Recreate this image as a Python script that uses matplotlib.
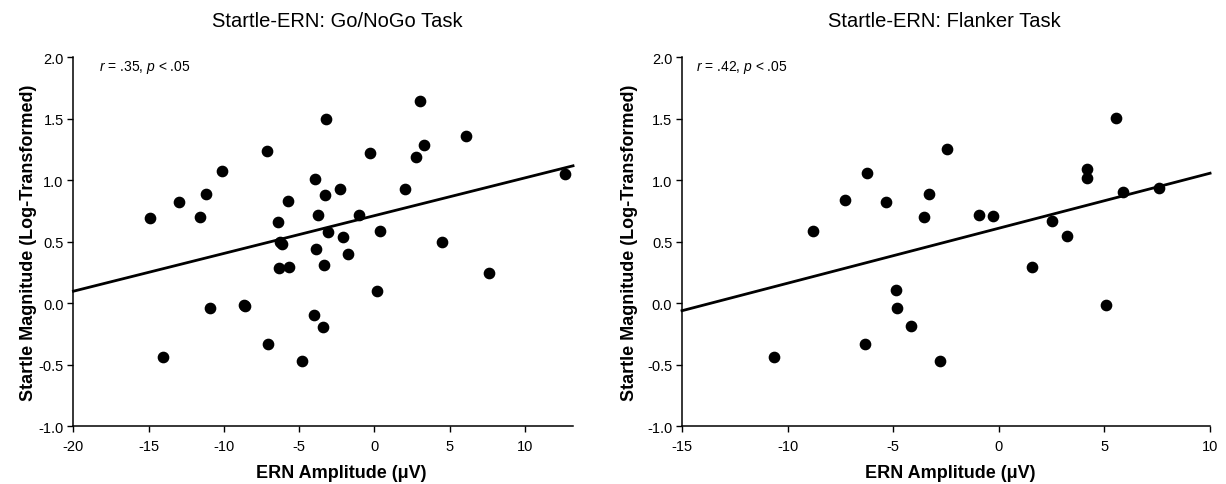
import numpy as np
import matplotlib
matplotlib.use("Agg")
import matplotlib.pyplot as plt

plt.rcParams["font.family"] = ["Liberation Sans", "DejaVu Sans"]
plt.rcParams["axes.unicode_minus"] = False
plt.rcParams["mathtext.fontset"] = "custom"
plt.rcParams["mathtext.it"] = "Liberation Sans:italic"
plt.rcParams["mathtext.rm"] = "Liberation Sans"

# Go/NoGo task
gng_x = [-14.89, -12.99, -11.57, -11.22, -10.11, -14.07, -10.93, -8.65, -8.57,
         -7.12, -7.04, -6.42, -6.24, -6.11, -6.37, -5.69, -5.75, -4.80, -3.94,
         -3.72, -3.89, -4.00, -3.23, -3.25, -3.10, -3.38, -3.41, -2.26, -2.06,
         -1.73, -1.04, -0.31, 0.20, 0.40, 2.04, 2.77, 3.05, 3.27, 4.49, 6.11,
         7.63, 12.65]
gng_y = [0.694, 0.821, 0.699, 0.889, 1.076, -0.434, -0.038, -0.016, -0.022,
         1.241, -0.331, 0.664, 0.496, 0.482, 0.290, 0.298, 0.835, -0.469, 1.008,
         0.721, 0.444, -0.098, 1.499, 0.881, 0.583, 0.314, -0.192, 0.930, 0.542,
         0.404, 0.718, 1.225, 0.103, 0.591, 0.930, 1.190, 1.642, 1.290, 0.496,
         1.358, 0.247, 1.051]

# Flanker task
flk_x = [-10.64, -8.78, -7.30, -6.25, -6.34, -5.33, -4.87, -4.80, -4.14, -3.52,
         -3.31, -2.77, -2.46, -0.93, -0.28, 1.55, 2.54, 3.24, 4.15, 4.18, 5.07,
         5.57, 5.90, 7.59]
flk_y = [-0.434, 0.588, 0.843, 1.062, -0.331, 0.827, 0.108, -0.035, -0.187,
         0.702, 0.889, -0.469, 1.252, 0.721, 0.707, 0.293, 0.672, 0.547, 1.089,
         1.016, -0.011, 1.509, 0.902, 0.935]

# regression lines (intercept, slope) and their x range
gng_fit = [0.712, 0.0307]
flk_fit = [0.610, 0.0447]
gng_line_x = [-20, 13.2]
flk_line_x = [-15, 10]

titles = ["Startle-ERN: Go/NoGo Task", "Startle-ERN: Flanker Task"]
stats = [r"$r$ = .35, $p$ < .05", r"$r$ = .42, $p$ < .05"]
gng_xticks = [-20, -15, -10, -5, 0, 5, 10]
flk_xticks = [-15, -10, -5, 0, 5, 10]
yticks = [-1.0, -0.5, 0.0, 0.5, 1.0, 1.5, 2.0]

fig = plt.figure(figsize=(12.26, 4.85), dpi=100)
ax1 = fig.add_axes([0.0599, 0.119, 0.4075, 0.761])
ax2 = fig.add_axes([0.5563, 0.119, 0.4307, 0.761])

panels = [
    (ax1, gng_x, gng_y, gng_fit, gng_line_x, gng_xticks, (-20, 13.2), 0.529, 0.537, 0.051, -0.072),
    (ax2, flk_x, flk_y, flk_fit, flk_line_x, flk_xticks, (-15, 10), 0.496, 0.508, 0.026, -0.083),
]

for i, (ax, xs, ys, fit, lx, xt, xl, tx, lbx, sx, lby) in enumerate(panels):
    ax.plot(xs, ys, "o", color="black", markersize=7.4, clip_on=False, zorder=3)
    lx = np.array(lx)
    ax.plot(lx, fit[0] + fit[1] * lx, color="black", lw=2.0, clip_on=False, zorder=2)

    ax.set_xlim(*xl)
    ax.set_ylim(-1.0, 2.0)
    ax.set_xticks(xt)
    ax.set_yticks(yticks)
    ax.set_yticklabels([f"{v:.1f}" for v in yticks])
    for s in ["top", "right"]:
        ax.spines[s].set_visible(False)
    for s in ["left", "bottom"]:
        ax.spines[s].set_linewidth(1.1)
    ax.tick_params(direction="out", length=4, width=1, labelsize=10.5, pad=3)
    ax.tick_params(axis="x", pad=5)

    ax.set_xlabel("ERN Amplitude (\u03bcV)", fontsize=13, fontweight="bold")
    ax.xaxis.set_label_coords(lbx, -0.103)
    ax.set_ylabel("Startle Magnitude (Log-Transformed)", fontsize=13, fontweight="bold")
    ax.yaxis.set_label_coords(lby, 0.5)

    ax.text(tx, 1.1, titles[i], transform=ax.transAxes, ha="center", va="center",
            fontsize=14.5)
    ax.text(sx, 0.974, stats[i], transform=ax.transAxes, ha="left", va="center",
            fontsize=10)

fig.savefig("out.png", dpi=100)
